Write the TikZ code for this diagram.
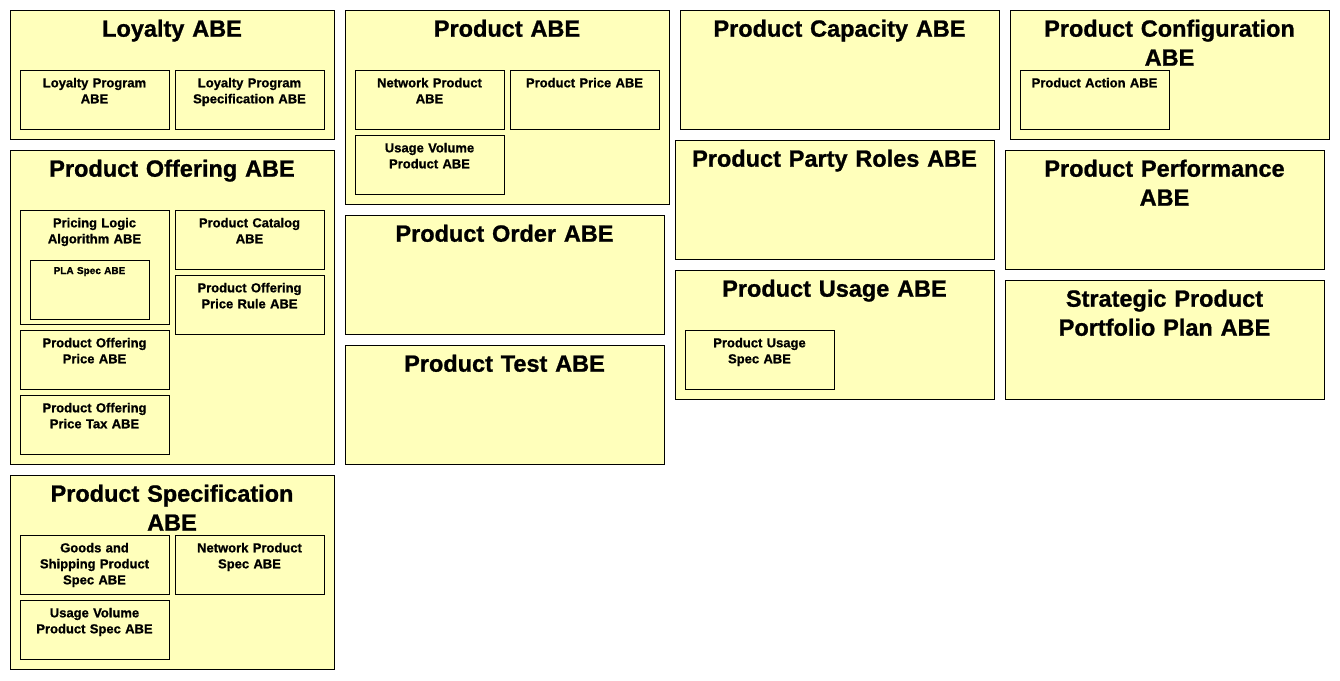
\documentclass[tikz,border=0pt]{standalone}
\usepackage{fontspec}
\setmainfont{Liberation Sans}[BoldFeatures={FakeBold=1}]
\definecolor{abe}{HTML}{FFFFBB}
\begin{document}
\begin{tikzpicture}[x=1pt,y=-1pt,
  box/.style={draw=black, line width=1pt, fill=abe, anchor=north west, inner sep=0pt, outer sep=0pt},
  ttl/.style={anchor=base, inner sep=0pt, text width=318pt, align=center, font=\fontsize{23.5}{29}\selectfont\bfseries},
  lbl/.style={anchor=base, inner sep=0pt, text width=146pt, align=center, font=\fontsize{13}{16}\selectfont\bfseries},
  lblsmall/.style={anchor=base, inner sep=0pt, text width=116pt, align=center, font=\fontsize{10}{12}\selectfont\bfseries}
]
\useasboundingbox (0,0) rectangle (1340,680);
% ---------- column 1 ----------
\node[box, minimum width=324pt, minimum height=129pt] (loy) at (10,10) {};
\node[ttl] (loyT) at ([yshift=-26.7pt]loy.north) {Loyalty ABE};
\node[box, minimum width=149pt, minimum height=59pt] (lp) at (20,70) {};
\node[lbl] (lpT) at ([yshift=-17.3pt]lp.north) {Loyalty Program\\ABE};
\node[box, minimum width=149pt, minimum height=59pt] (lps) at (175,70) {};
\node[lbl] (lpsT) at ([yshift=-17.3pt]lps.north) {Loyalty Program\\Specification ABE};

\node[box, minimum width=324pt, minimum height=314pt] (po) at (10,150) {};
\node[ttl] (poT) at ([yshift=-26.7pt]po.north) {Product Offering ABE};
\node[box, minimum width=149pt, minimum height=114pt] (pla) at (20,210) {};
\node[lbl] (plaT) at ([yshift=-17.3pt]pla.north) {Pricing Logic\\Algorithm ABE};
\node[box, minimum width=119pt, minimum height=59pt] (plas) at (30,260) {};
\node[lblsmall] (plasT) at ([yshift=-14pt]plas.north) {PLA Spec ABE};
\node[box, minimum width=149pt, minimum height=59pt] (pc) at (175,210) {};
\node[lbl] (pcT) at ([yshift=-17.3pt]pc.north) {Product Catalog\\ABE};
\node[box, minimum width=149pt, minimum height=59pt] (popr) at (175,275) {};
\node[lbl] (poprT) at ([yshift=-17.3pt]popr.north) {Product Offering\\Price Rule ABE};
\node[box, minimum width=149pt, minimum height=59pt] (pop) at (20,330) {};
\node[lbl] (popT) at ([yshift=-17.3pt]pop.north) {Product Offering\\Price ABE};
\node[box, minimum width=149pt, minimum height=59pt] (popt) at (20,395) {};
\node[lbl] (poptT) at ([yshift=-17.3pt]popt.north) {Product Offering\\Price Tax ABE};

\node[box, minimum width=324pt, minimum height=194pt] (ps) at (10,475) {};
\node[ttl] (psT) at ([yshift=-26.7pt]ps.north) {Product Specification\\ABE};
\node[box, minimum width=149pt, minimum height=59pt] (gs) at (20,535) {};
\node[lbl] (gsT) at ([yshift=-17.3pt]gs.north) {Goods and\\Shipping Product\\Spec ABE};
\node[box, minimum width=149pt, minimum height=59pt] (nps) at (175,535) {};
\node[lbl] (npsT) at ([yshift=-17.3pt]nps.north) {Network Product\\Spec ABE};
\node[box, minimum width=149pt, minimum height=59pt] (uvps) at (20,600) {};
\node[lbl] (uvpsT) at ([yshift=-17.3pt]uvps.north) {Usage Volume\\Product Spec ABE};
% ---------- column 2 ----------
\node[box, minimum width=324pt, minimum height=194pt] (pr) at (345,10) {};
\node[ttl] (prT) at ([yshift=-26.7pt]pr.north) {Product ABE};
\node[box, minimum width=149pt, minimum height=59pt] (np) at (355,70) {};
\node[lbl] (npT) at ([yshift=-17.3pt]np.north) {Network Product\\ABE};
\node[box, minimum width=149pt, minimum height=59pt] (pp) at (510,70) {};
\node[lbl] (ppT) at ([yshift=-17.3pt]pp.north) {Product Price ABE};
\node[box, minimum width=149pt, minimum height=59pt] (uvp) at (355,135) {};
\node[lbl] (uvpT) at ([yshift=-17.3pt]uvp.north) {Usage Volume\\Product ABE};

\node[box, minimum width=319pt, minimum height=119pt] (pord) at (345,215) {};
\node[ttl] (pordT) at ([yshift=-26.7pt]pord.north) {Product Order ABE};
\node[box, minimum width=319pt, minimum height=119pt] (pt) at (345,345) {};
\node[ttl] (ptT) at ([yshift=-26.7pt]pt.north) {Product Test ABE};
% ---------- column 3 ----------
\node[box, minimum width=319pt, minimum height=119pt] (pcap) at (680,10) {};
\node[ttl] (pcapT) at ([yshift=-26.7pt]pcap.north) {Product Capacity ABE};
\node[box, minimum width=319pt, minimum height=119pt] (ppr) at (675,140) {};
\node[ttl] (pprT) at ([yshift=-26.7pt]ppr.north) {Product Party Roles ABE};
\node[box, minimum width=319pt, minimum height=129pt] (pu) at (675,270) {};
\node[ttl] (puT) at ([yshift=-26.7pt]pu.north) {Product Usage ABE};
\node[box, minimum width=149pt, minimum height=59pt] (pus) at (685,330) {};
\node[lbl] (pusT) at ([yshift=-17.3pt]pus.north) {Product Usage\\Spec ABE};
% ---------- column 4 ----------
\node[box, minimum width=319pt, minimum height=129pt] (pcfg) at (1010,10) {};
\node[ttl] (pcfgT) at ([yshift=-26.7pt]pcfg.north) {Product Configuration\\ABE};
\node[box, minimum width=149pt, minimum height=59pt] (pa) at (1020,70) {};
\node[lbl] (paT) at ([yshift=-17.3pt]pa.north) {Product Action ABE};
\node[box, minimum width=319pt, minimum height=119pt] (pperf) at (1005,150) {};
\node[ttl] (pperfT) at ([yshift=-26.7pt]pperf.north) {Product Performance\\ABE};
\node[box, minimum width=319pt, minimum height=119pt] (sppp) at (1005,280) {};
\node[ttl] (spppT) at ([yshift=-26.7pt]sppp.north) {Strategic Product\\Portfolio Plan ABE};
\end{tikzpicture}
\end{document}
